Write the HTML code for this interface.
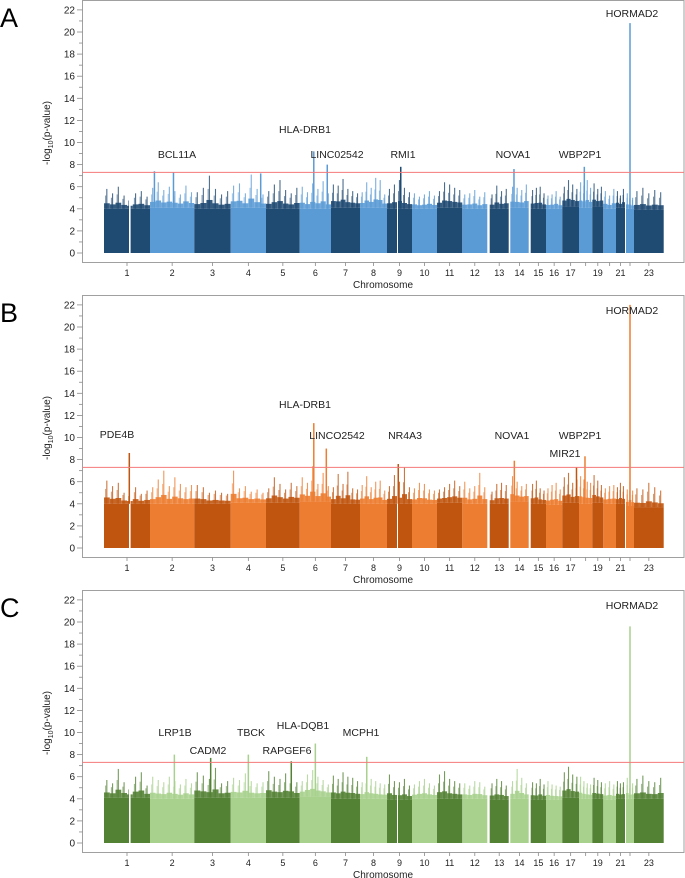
<!DOCTYPE html>
<html><head><meta charset="utf-8">
<style>
html,body{margin:0;padding:0;background:#fff;}
svg{display:block;font-family:"Liberation Sans",Arial,sans-serif;}
</style></head>
<body>
<svg id="chart" width="685" height="878" viewBox="0 0 685 878"></svg>
<script>
// ---- data ----
const chromLabels = ["1","2","3","4","5","6","7","8","9","10","11","12","13","14","15","16","17","18","19","20","21","22","23"];
const shownLabels = ["1","2","3","4","5","6","7","8","9","10","11","12","13","14","15","16","17","19","21","23"];
const chromStart = [104,150,194.3,230.7,266,299.7,331,360,387,412,437,462.3,489.7,510.3,530.7,546,562.3,579,592.3,603.3,616,626,634];
const chromEnd   = [150,194.3,230.7,266,299.7,331,360,387,412,437,462.3,487.3,508.7,528.7,546,562.3,579,592.3,603.3,616,625,634,663.7];
const yTicks = [0,2,4,6,8,10,12,14,16,18,20,22];
const panelNames = ["A","B","C"];
const bodyA = [4.0,4.1,4.0,4.1,4.0,4.0,4.1,4.1,4.0,4.0,4.1,4.0,4.0,4.1,4.0,4.0,4.2,4.1,4.2,4.0,4.1,4.0,3.9];
const bodyB = [4.0,4.0,4.0,4.1,4.1,4.2,4.0,4.0,4.0,4.0,4.1,4.0,4.0,4.2,4.0,3.9,4.1,4.0,4.1,4.0,4.0,3.8,3.7];
const bodyC = [4.1,4.0,4.1,4.1,4.1,4.2,4.0,4.0,3.9,4.0,4.0,4.0,3.9,4.0,3.9,3.9,4.1,4.0,4.0,3.9,4.0,4.0,4.0];
const topsA = [
 [5.8,5.4,6.0,5.2,4.9,5.4,5.6,5.1],[5.9,6.4,5.7,6.0,5.6,5.3,6.1,5.5],[5.5,5.9,7.0,5.8,5.3,5.6],[6.1,6.3,5.4,7.1,5.8,5.3],
 [5.6,6.2,6.6,5.7,5.4,5.9],[6.0,5.5,6.3,5.8,6.5,5.4],[6.2,6.1,6.7,5.8,5.6,5.4],[5.5,6.4,5.9,6.8,6.6,5.3],
 [5.8,6.2,6.6,5.9,5.5],[5.4,5.1,5.3,5.6,5.2],[5.6,6.4,6.2,5.9,5.7],[5.3,5.4,5.7,5.1,5.5],
 [5.3,6.1,5.6,5.8],[6.0,5.9,5.7,6.2],[5.7,5.9,6.0,5.4],[5.2,5.3,5.6,5.1],[6.0,6.6,6.2,5.8],[6.4,6.1,6.6,5.9],
 [6.3,5.8,6.0],[5.6,5.2,5.8],[5.6,5.2,5.8],[5.4,5.3,5.0],[5.6,5.9,5.4,5.7,5.5]];
const topsB = [
 [6.1,5.6,5.9,5.0,4.8,5.5,4.9,5.2],[5.5,6.2,7.0,5.6,6.4,5.8,5.5,5.7],[5.7,5.5,5.0,5.2,5.0,4.9],[7.0,5.4,5.6,5.1,5.3,5.0],
 [5.4,6.4,5.8,5.3,5.9,5.6],[6.4,5.9,7.4,5.8,6.8,5.6],[5.5,6.7,5.8,6.9,5.4,5.3],[5.7,6.5,5.5,6.0,6.1,5.2],
 [5.6,6.6,6.0,7.3,5.5],[5.4,5.9,5.8,5.3,5.2],[5.3,5.5,5.8,6.1,5.6],[6.0,5.4,5.6,6.8,5.5],
 [5.1,5.8,5.9,5.7],[6.5,6.0,5.6,5.8],[5.8,6.1,5.4,5.2],[5.4,5.7,5.9,5.3],[6.4,6.8,5.9,6.2],[6.5,6.2,6.0,5.9],
 [6.6,6.1,5.7],[5.4,5.6,5.7],[5.5,5.9,5.6],[5.3,6.0,5.2],[5.4,5.3,5.9,5.5,5.2]];
const topsC = [
 [5.7,5.4,6.7,5.5,5.0,6.0,6.4,5.2],[6.0,5.7,5.5,6.0,5.6,5.3,5.8,5.4],[6.4,6.1,5.8,6.8,5.4,5.6],[5.9,5.7,6.3,5.6,5.4,5.5],
 [6.5,6.0,5.8,6.3,6.1,5.5],[5.6,6.2,6.6,6.0,5.7,5.3],[6.1,5.8,6.4,6.0,5.9,5.6],[5.5,6.2,5.8,5.6,5.4,5.3],
 [6.2,5.6,5.5,5.8,5.2],[5.3,5.6,5.8,5.4,5.2],[6.2,6.5,5.8,5.6,5.4],[5.4,5.2,5.6,5.5,5.1],
 [5.4,5.8,5.6,5.2],[5.6,6.7,5.9,5.4],[5.5,5.4,5.8,5.3],[5.6,5.3,5.2,5.1],[6.4,6.9,6.2,6.0],[6.0,5.6,5.4,5.3],
 [5.9,5.7,5.5],[5.4,5.6,5.3],[5.6,5.4,5.5],[5.9,5.3,5.4],[5.8,6.1,5.6,5.5,5.9]];
// peaks: [chromIndex, fraction, maxValue]
const peaksA = [[1,0.1,7.4],[1,0.53,7.3],[3,0.85,7.2],[5,0.45,9.2],[5,0.88,8.0],[8,0.55,7.8],[13,0.2,7.6],[17,0.4,7.8],[21,0.5,20.8]];
const peaksB = [[0,0.55,8.6],[5,0.45,11.3],[5,0.85,9.0],[8,0.45,7.6],[13,0.22,7.9],[16,0.85,7.3],[17,0.45,8.3],[21,0.5,22.0]];
const peaksC = [[1,0.55,8.0],[2,0.45,7.7],[3,0.5,8.0],[4,0.75,7.4],[5,0.5,9.0],[7,0.25,7.8],[21,0.5,19.6]];
const labelsA = [["BCL11A",177,158],["HLA-DRB1",305,133],["LINC02542",337,158],["RMI1",403,158],["NOVA1",513,158],["WBP2P1",580,158],["HORMAD2",632,17]];
const labelsB = [["PDE4B",117,143],["HLA-DRB1",305,113],["LINCO2542",337,144],["NR4A3",405,144],["NOVA1",512,144],["WBP2P1",580,144],["MIR21",565,162],["HORMAD2",632,19]];
const labelsC = [["LRP1B",175,146],["CADM2",208,164],["TBCK",251,146],["RAPGEF6",287,164],["HLA-DQB1",303,139],["MCPH1",361,146],["HORMAD2",632,19]];
const threshold = 7.3;

// ---- drawing ----
const svg = document.getElementById('chart');
const NS = 'http://www.w3.org/2000/svg';
function mk(tag, attrs){ const e=document.createElementNS(NS,tag); for(const k in attrs) e.setAttribute(k,attrs[k]); return e; }
const colors = [["#1f4a72","#5b9bd5"],["#c0550f","#ed7d31"],["#548235","#a9d18e"]];
const bodies=[bodyA,bodyB,bodyC], tops=[topsA,topsB,topsC], peaks=[peaksA,peaksB,peaksC], labels=[labelsA,labelsB,labelsC];
const X0=82.5, X1=684, Y0=253, SC=11.05;

for(let p=0;p<3;p++){
  const off=p*295;
  const y = v => off + Y0 - v*SC;
  const g = mk('g',{});
  
  
  svg.appendChild(g);
  const letter = mk('text',{x:0,y:off+27,'font-size':27,fill:'#000'});
  letter.textContent=panelNames[p];
  
  
  g.appendChild(letter);
  const frame = mk('rect',{x:X0,y:off+0.5,width:X1-X0,height:262,fill:'none',stroke:'#a0a0a0','stroke-width':1});
  
  
  g.appendChild(frame);
  for(let v=0; v<=22; v++){
    const major = yTicks.indexOf(v)>=0;
    g.appendChild(mk('line',{x1:major?77:79,x2:X0,y1:y(v),y2:y(v),stroke:'#888','stroke-width':0.8}));
    if(major){
      const t=mk('text',{x:75,y:y(v)+3.5,'font-size':10,'text-anchor':'end',fill:'#222'});
      t.textContent=v;
      
      
      g.appendChild(t);
    }
  }
  const yt = mk('text',{transform:`translate(50,${off+133}) rotate(-90)`,'font-size':10,'text-anchor':'middle',fill:'#222'});
  yt.innerHTML='-log<tspan font-size="7" dy="3">10</tspan><tspan dy="-3">(p-value)</tspan>';
  
  
  g.appendChild(yt);
  for(let c=0;c<chromLabels.length;c++){
    const col = colors[p][c%2];
    const xs=chromStart[c], xe=chromEnd[c], w=xe-xs;
    const b=bodies[p][c];
    const cg = mk('g',{fill:col});
    
    
    g.appendChild(cg);
    cg.appendChild(mk('rect',{x:xs,y:y(b),width:w,height:b*SC}));
    const tv=tops[p][c], n=tv.length;
    for(let i=0;i<n;i++){
      const cx = xs + w*(i+0.5)/n;
      cg.appendChild(mk('rect',{x:xs+w*i/n,y:y(b+0.3+0.25*(tv[i]-5)),width:w/n,height:(0.3+0.25*(tv[i]-5))*SC,opacity:0.9}));
      cg.appendChild(mk('rect',{x:cx-0.6,y:y(tv[i]),width:1.1,height:(tv[i]-b)*SC,opacity:0.8}));
      cg.appendChild(mk('rect',{x:cx-w/n*0.3,y:y((tv[i]+b)/2+0.3),width:1,height:((tv[i]-b)/2+0.3)*SC,opacity:0.6}));
    }
    const cx=(xs+xe)/2;
    g.appendChild(mk('line',{x1:cx,x2:cx,y1:off+262.5,y2:off+266,stroke:'#888','stroke-width':0.8}));
    if(shownLabels.indexOf(chromLabels[c])>=0){
      const t=mk('text',{x:cx,y:off+276,'font-size':9,'text-anchor':'middle',fill:'#222'});
      t.textContent=chromLabels[c];
      
      
      g.appendChild(t);
    }
  }
  g.appendChild(mk('rect',{x:129,y:y(7),width:1.6,height:7*SC,fill:'#fff'}));
  g.appendChild(mk('rect',{x:397,y:y(7),width:1,height:7*SC,fill:'#fff'}));
  g.appendChild(mk('rect',{x:487.5,y:y(7),width:2,height:7*SC,fill:'#fff'}));
  g.appendChild(mk('rect',{x:625,y:y(7),width:1,height:7*SC,fill:'#fff'}));
  for(const pk of peaks[p]){
    const c=pk[0], xs=chromStart[c], xe=chromEnd[c];
    const px = xs + (xe-xs)*pk[1];
    const col = colors[p][c%2];
    const pl = mk('line',{x1:px,x2:px,y1:y(bodies[p][c]),y2:y(pk[2]),stroke:col,'stroke-width':1.5});
    
    
    g.appendChild(pl);
  }
  const th = mk('line',{x1:X0,x2:X1,y1:y(threshold),y2:y(threshold),stroke:'#f47a7a','stroke-width':1});
  
  
  g.appendChild(th);
  for(const lb of labels[p]){
    const t=mk('text',{x:lb[1],y:off+lb[2],'font-size':10.5,'text-anchor':'middle',fill:'#222'});
    t.textContent=lb[0];
    
    
    g.appendChild(t);
  }
  const xt=mk('text',{x:383,y:off+288,'font-size':10,'text-anchor':'middle',fill:'#222'});
  xt.textContent='Chromosome';
  
  
  g.appendChild(xt);
}
</script>
</body></html>
